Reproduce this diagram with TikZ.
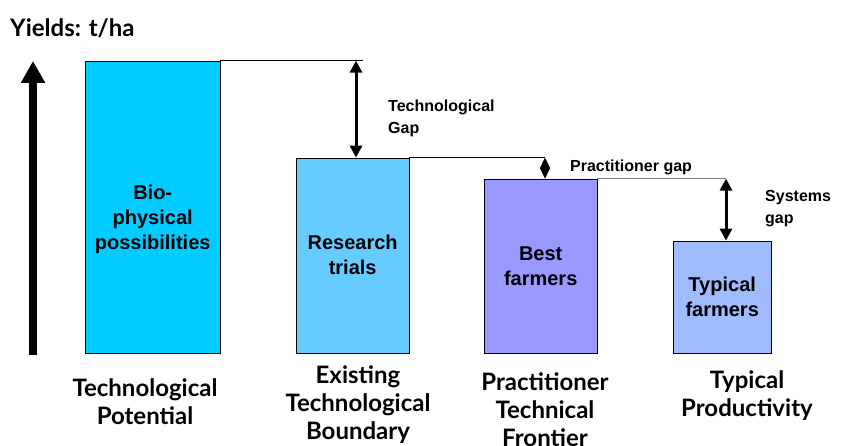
\documentclass[tikz,border=0pt]{standalone}
\usepackage{fontspec}
\setmainfont{Liberation Sans}
\newfontfamily\comicfont{Lato}
\usetikzlibrary{arrows.meta}

\begin{document}
\begin{tikzpicture}[x=1pt, y=1pt,
        bar/.style={draw=black, anchor=south west, inner sep=0pt, align=center,
            font=\fontsize{20}{25}\selectfont\bfseries},
        barlbl/.style={inner sep=0pt, align=center,
            font=\fontsize{20}{25}\selectfont\bfseries},
        gaplbl/.style={anchor=west, align=left, inner sep=0pt,
            font=\fontsize{16}{22}\selectfont\bfseries},
        stage/.style={align=center, inner sep=0pt,
            font=\comicfont\fontsize{24}{28}\selectfont\bfseries},
        gap/.style={line width=3pt, {Triangle[width=12pt,length=12pt]}-{Triangle[width=12pt,length=12pt]}}]
            \useasboundingbox (0,0) rectangle (843,445);
            \node[stage, anchor=west] (yields) at (10,417) {Yields: t/ha};
            % yield axis
            \coordinate (ybot) at (33,90);
            \coordinate (ytop) at (33,384);
            \draw[line width=8pt, -{Triangle[width=23pt,length=22pt]}] (ybot) -- (ytop);
            % bars
            \node[bar, fill={rgb,255:red,0;green,204;blue,255}, minimum width=135pt, minimum height=292pt]
                (pot) at (85,92) {};
            \node[barlbl] (bio) at ([yshift=-13pt]pot.center) {Bio-\\physical\\possibilities};
            \node[bar, fill={rgb,255:red,102;green,204;blue,255}, minimum width=113pt, minimum height=195pt]
                (res) at (296,92) {Research\\trials};
            \node[bar, fill={rgb,255:red,153;green,153;blue,255}, minimum width=113pt, minimum height=174pt]
                (best) at (484,92) {Best\\farmers};
            \node[bar, fill={rgb,255:red,160;green,188;blue,255}, minimum width=98pt, minimum height=112pt]
                (typ) at (673,92) {Typical\\farmers};
            % levels and gaps
            \coordinate (lv1) at (363,0 |- pot.north);
            \coordinate (lv2) at (545,0 |- res.north);
            \coordinate (lv3) at (726,0 |- best.north);
            \draw (pot.north east) -- (lv1);
            \draw (res.north east) -- (lv2);
            \draw[gray] (best.north east) -- (lv3);
            \draw[gap] (356,0 |- pot.north) -- (356,0 |- res.north);
            \draw[line width=1pt, {Triangle[width=10pt,length=10.5pt]}-{Triangle[width=10pt,length=10.5pt]}]
                (lv2) -- (lv2 |- best.north);
            \draw[gap] (lv3) -- (lv3 |- typ.north);
            \node[gaplbl] (tgap) at (388,327) {Technological\\Gap};
            \node[gaplbl] (pgap) at (570,278) {Practitioner gap};
            \node[gaplbl] (sgap) at (765,236) {Systems\\gap};
            % stage names
            \node[stage] (tp) at (145,43) {Technological\\Potential};
            \node[stage] (etb) at (358,40) {Existing\\Technological\\Boundary};
            \node[stage] (ptf) at (545,35) {Practitioner\\Technical\\Frontier};
            \node[stage] (tpr) at (747,49) {Typical\\Productivity};
        \end{tikzpicture}
\end{document}
